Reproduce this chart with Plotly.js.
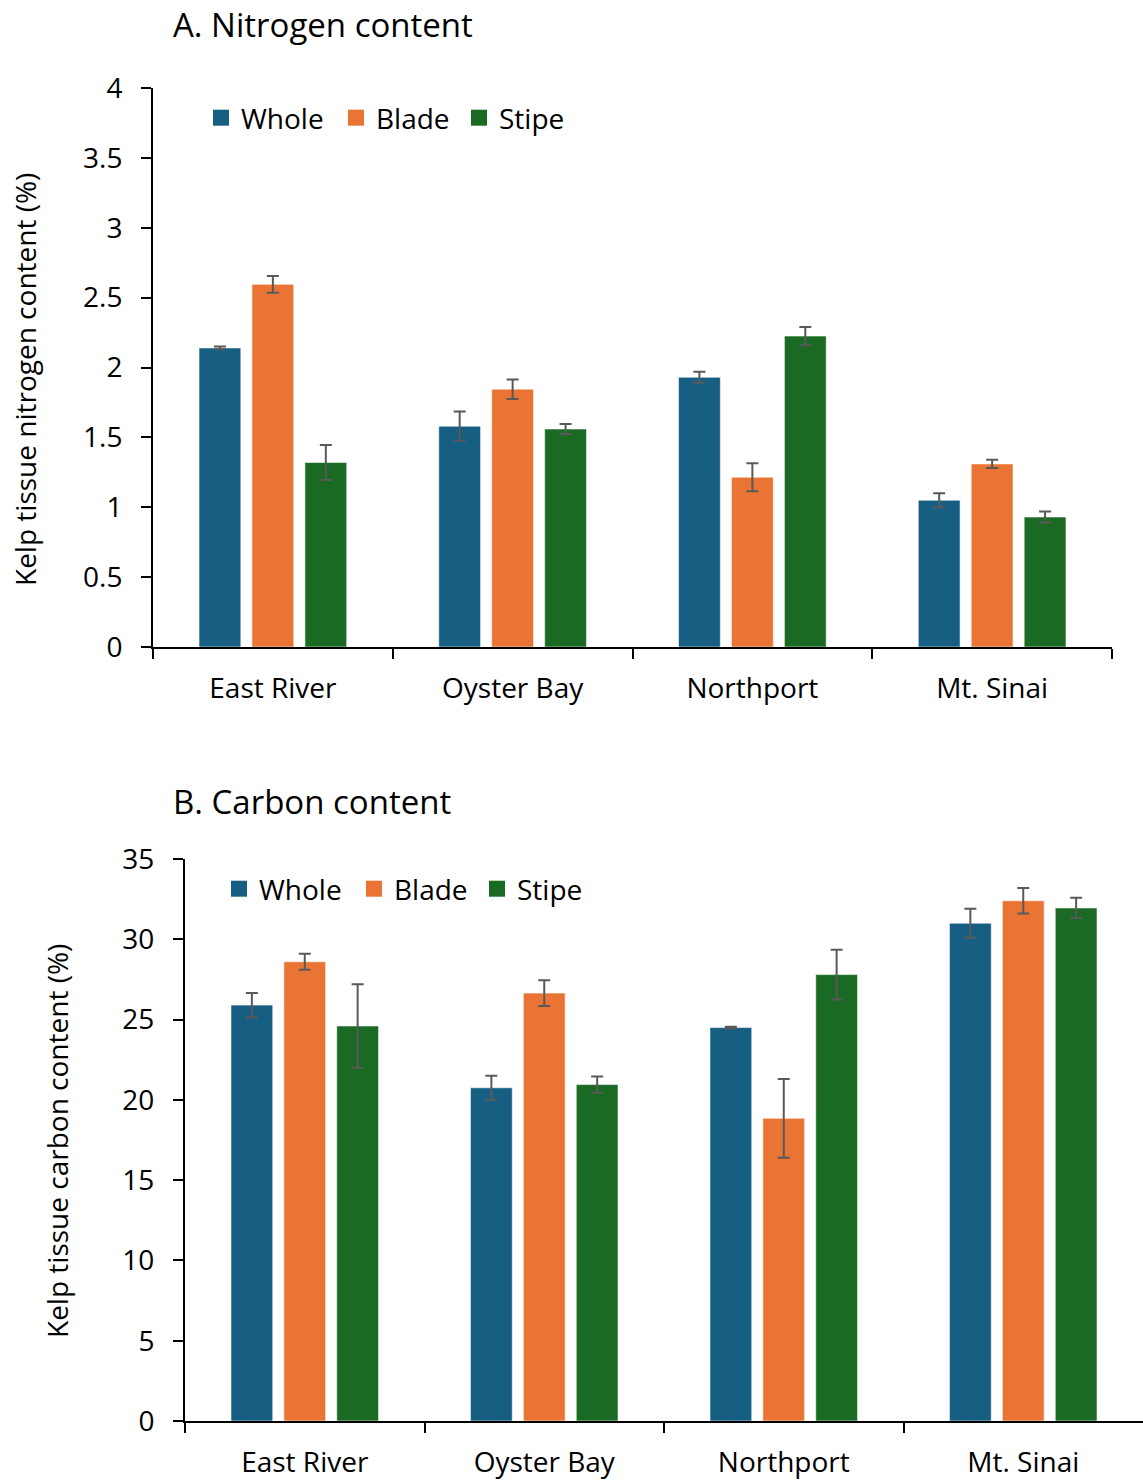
<!DOCTYPE html>
<html>
<head>
<meta charset="utf-8">
<script src="https://cdn.plot.ly/plotly-3.0.1.min.js"></script>
<style>
  html, body { margin: 0; padding: 0; background: #ffffff; }
  #chart { width: 1143px; height: 1480px; }
</style>
</head>
<body>
<div id="chart"></div>
<script>
// Sampling sites
const sites = ["East River", "Oyster Bay", "Northport", "Mt. Sinai"];
const tissueNames = ["Whole", "Blade", "Stipe"];

// A. Nitrogen content (%) and error
const nWhole = [2.14, 1.58, 1.93, 1.05];
const nWholeErr = [0.01, 0.105, 0.04, 0.05];
const nBlade = [2.595, 1.845, 1.215, 1.31];
const nBladeErr = [0.06, 0.07, 0.10, 0.03];
const nStipe = [1.32, 1.56, 2.225, 0.93];
const nStipeErr = [0.125, 0.035, 0.065, 0.04];

// B. Carbon content (%) and error
const cWhole = [25.9, 20.75, 24.5, 31.0];
const cWholeErr = [0.75, 0.75, 0.05, 0.9];
const cBlade = [28.6, 26.65, 18.85, 32.4];
const cBladeErr = [0.5, 0.8, 2.45, 0.8];
const cStipe = [24.6, 20.95, 27.8, 31.95];
const cStipeErr = [2.6, 0.5, 1.55, 0.63];

const W = 1143, H = 1480;
const FONT = "'Open Sans', 'Noto Sans', sans-serif";
const colors = ["#165F82", "#EA7434", "#1B6A24"];
// Legend entry widths (px) so the keys are spread out a little
const keyWidths = [90, 78, 0];

function px(x) { return x / W; }
function py(y) { return 1 - y / H; }

function barTrace(name, values, errs, color, xa, ya) {
  return {
    type: "bar",
    name: name,
    x: sites,
    y: values,
    xaxis: xa,
    yaxis: ya,
    showlegend: false,
    marker: { color: color, line: { color: "rgba(255,255,255,0.55)", width: 1 } },
    error_y: { type: "data", array: errs, visible: true, color: "#595959", thickness: 2, width: 6 },
    hoverinfo: "x+y+name"
  };
}

// Legend entries with larger square swatches (no data points of their own)
function keyTrace(name, color, width, xa, ya, legendName) {
  const t = {
    type: "scatter", mode: "markers", name: name,
    x: [null], y: [null], xaxis: xa, yaxis: ya,
    legend: legendName, showlegend: true, hoverinfo: "skip",
    marker: { symbol: "square", size: 18, color: color }
  };
  if (width) t.legendwidth = width;
  return t;
}

const data = [
  barTrace(tissueNames[0], nWhole, nWholeErr, colors[0], "x", "y"),
  barTrace(tissueNames[1], nBlade, nBladeErr, colors[1], "x", "y"),
  barTrace(tissueNames[2], nStipe, nStipeErr, colors[2], "x", "y"),
  barTrace(tissueNames[0], cWhole, cWholeErr, colors[0], "x2", "y2"),
  barTrace(tissueNames[1], cBlade, cBladeErr, colors[1], "x2", "y2"),
  barTrace(tissueNames[2], cStipe, cStipeErr, colors[2], "x2", "y2")
];
tissueNames.forEach(function (n, i) { data.push(keyTrace(n, colors[i], keyWidths[i], "x", "y", "legend")); });
tissueNames.forEach(function (n, i) { data.push(keyTrace(n, colors[i], keyWidths[i], "x2", "y2", "legend2")); });

const xCommon = {
  type: "category",
  showline: true, linecolor: "#000", linewidth: 2,
  ticks: "outside", tickson: "boundaries", ticklen: 10, tickwidth: 2, tickcolor: "#000",
  ticklabelstandoff: 15,
  showgrid: false, zeroline: false,
  tickfont: { family: FONT, size: 28, color: "#000" },
  fixedrange: true
};
const yCommon = {
  showline: true, linecolor: "#000", linewidth: 2,
  ticks: "outside", ticklen: 10, tickwidth: 2, tickcolor: "#000",
  ticklabelstandoff: 13,
  showgrid: false, zeroline: false,
  tickfont: { family: FONT, size: 28, color: "#000" },
  fixedrange: true
};

const legendCommon = {
  orientation: "h", xanchor: "left", yanchor: "middle",
  font: { family: FONT, size: 28, color: "#000" }, bgcolor: "rgba(0,0,0,0)",
  itemclick: false, itemdoubleclick: false
};

const layout = {
  width: W, height: H,
  margin: { l: 0, r: 0, t: 0, b: 0 },
  paper_bgcolor: "#fff", plot_bgcolor: "#fff",
  barmode: "group",
  bargap: 0.3375,
  bargroupgap: 0.21,
  font: { family: FONT, color: "#000" },
  xaxis: Object.assign({}, xCommon, { domain: [px(153), px(1112)], anchor: "y" }),
  yaxis: Object.assign({}, yCommon, { domain: [py(647), py(88)], range: [0, 4], dtick: 0.5, anchor: "x" }),
  xaxis2: Object.assign({}, xCommon, { domain: [px(185), 1], anchor: "y2" }),
  yaxis2: Object.assign({}, yCommon, { domain: [py(1421), py(859)], range: [0, 35], dtick: 5, anchor: "x2" }),
  legend: Object.assign({}, legendCommon, { x: px(201), y: py(118) }),
  legend2: Object.assign({}, legendCommon, { x: px(219), y: py(889) }),
  annotations: [
    { text: "A. Nitrogen content", xref: "paper", yref: "paper", x: px(171), y: py(25),
      xanchor: "left", yanchor: "middle", showarrow: false, font: { family: FONT, size: 33, color: "#000" } },
    { text: "B. Carbon content", xref: "paper", yref: "paper", x: px(171), y: py(801),
      xanchor: "left", yanchor: "middle", showarrow: false, font: { family: FONT, size: 33, color: "#000" } },
    { text: "Kelp tissue nitrogen content (%)", xref: "paper", yref: "paper", x: px(25), y: py(380),
      xanchor: "center", yanchor: "middle", textangle: -90, showarrow: false, font: { family: FONT, size: 28, color: "#000" } },
    { text: "Kelp tissue carbon content (%)", xref: "paper", yref: "paper", x: px(57), y: py(1141),
      xanchor: "center", yanchor: "middle", textangle: -90, showarrow: false, font: { family: FONT, size: 28, color: "#000" } }
  ]
};

Plotly.newPlot("chart", data, layout, { displayModeBar: false, staticPlot: true });
</script>
</body>
</html>
